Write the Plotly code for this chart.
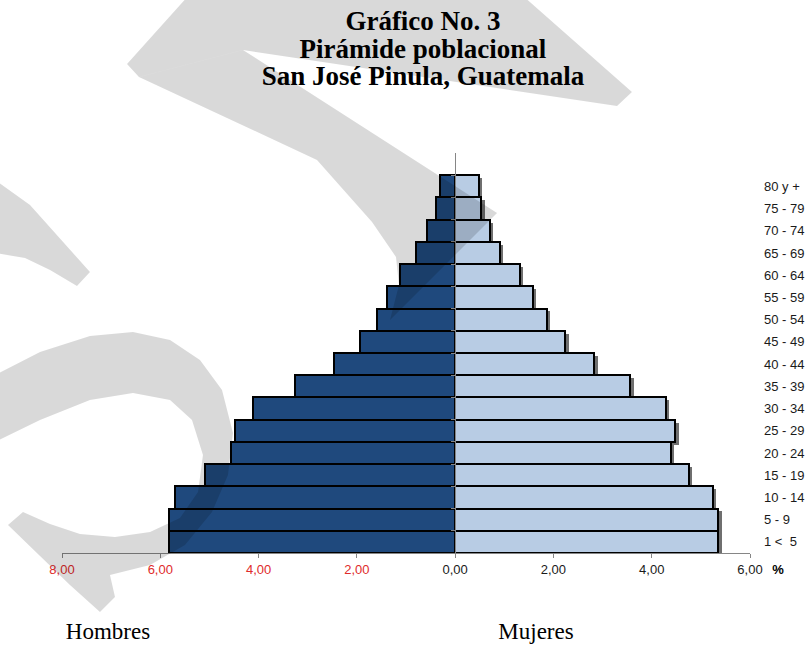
import plotly.graph_objects as go

# ---------------- data ----------------
edades = ["1 &lt;  5", "5 - 9", "10 - 14", "15 - 19", "20 - 24", "25 - 29", "30 - 34",
          "35 - 39", "40 - 44", "45 - 49", "50 - 54", "55 - 59", "60 - 64",
          "65 - 69", "70 - 74", "75 - 79", "80 y +"]
hombres = [5.83, 5.83, 5.71, 5.10, 4.57, 4.47, 4.12, 3.26, 2.47, 1.93, 1.60,
           1.39, 1.12, 0.79, 0.57, 0.39, 0.30]
mujeres = [5.35, 5.35, 5.24, 4.75, 4.39, 4.48, 4.29, 3.56, 2.83, 2.24, 1.86,
           1.58, 1.32, 0.91, 0.71, 0.53, 0.48]
x_ticks = [-8, -6, -4, -2, 0, 2, 4, 6]
x_tick_text = ["8,00", "6,00", "4,00", "2,00", "0,00", "2,00", "4,00", "6,00"]
titulo = ["Gráfico No. 3", "Pirámide poblacional", "San José Pinula, Guatemala"]
sexos = ["Hombres", "Mujeres"]
unidad = "%"

# ---------------- layout geometry (pixels) ----------------
W, H = 807, 648
PL, PR, PT, PB = 62, 750, 153, 553   # plot area edges in pixels
XMIN, XMAX = -8, 6


def path(points):
    return "M" + "L".join(f"{a / W:.4f},{1 - b / H:.4f}" for a, b in points) + "Z"


red = "#e02b2b"
tick_text = [
    (f'<span style="color:{red}">{t}</span>' if v < 0 else t)
    for v, t in zip(x_ticks, x_tick_text)
]

dark = "#1f497d"
light = "#b8cce4"
shadow = "#6f6f6f"

fig = go.Figure()
# shadows
fig.add_trace(go.Bar(y=edades, x=[-v for v in hombres], base=0.07, orientation="h",
                     width=1, offset=-0.63, marker=dict(color=shadow, line=dict(width=0)),
                     yaxis="y", hoverinfo="skip", showlegend=False))
fig.add_trace(go.Bar(y=edades, x=mujeres, base=0.07, orientation="h",
                     width=1, offset=-0.63, marker=dict(color=shadow, line=dict(width=0)),
                     yaxis="y2", hoverinfo="skip", showlegend=False))
# bars
fig.add_trace(go.Bar(y=edades, x=[-v for v in hombres], orientation="h", name="Hombres",
                     width=1, offset=-0.5,
                     marker=dict(color=dark, line=dict(color="#000000", width=2)),
                     yaxis="y", showlegend=False))
fig.add_trace(go.Bar(y=edades, x=mujeres, orientation="h", name="Mujeres",
                     width=1, offset=-0.5,
                     marker=dict(color=light, line=dict(color="#000000", width=2)),
                     yaxis="y2", showlegend=False))

# ---------------- texts (full-figure pixel-unit subplot) ----------------
fig.add_trace(go.Scatter(x=[423, 423, 423], y=[23, 51, 78], text=titulo, mode="text",
                         textposition="middle center", cliponaxis=False,
                         textfont=dict(family="Liberation Serif", size=27, color="#000000",
                                       weight="bold"),
                         xaxis="x3", yaxis="y3", hoverinfo="skip", showlegend=False))
fig.add_trace(go.Scatter(x=[108, 536], y=[633, 633], text=sexos, mode="text",
                         textposition="middle center", cliponaxis=False,
                         textfont=dict(family="Liberation Serif", size=23, color="#000000"),
                         xaxis="x3", yaxis="y3", hoverinfo="skip", showlegend=False))
fig.add_trace(go.Scatter(x=[778], y=[571], text=[unidad], mode="text",
                         textposition="middle center", cliponaxis=False,
                         textfont=dict(family="Liberation Sans", size=13, color="#000000",
                                       weight="bold"),
                         xaxis="x3", yaxis="y3", hoverinfo="skip", showlegend=False))

# ---------------- watermark (decorative, drawn above everything) ----------------
wm_fill = "rgba(0,0,0,0.15)"
wm_pieces = [
    [(189, -5), (522, -5), (632, 92), (617, 106), (243, 50), (139, 77), (127, 64)],
    [(243, 50), (497, 213), (390, 320), (399, 285), (396, 257), (372, 222),
     (317, 160), (139, 77)],
    [(-5, 180), (30, 205), (90, 272), (77, 286), (50, 270), (25, 258), (-5, 253)],
    [(-5, 375), (40, 352), (90, 336), (133, 332), (170, 340), (200, 360),
     (222, 390), (233, 433), (228, 475), (212, 512), (185, 545), (150, 565),
     (110, 575), (115, 597), (100, 612), (70, 585), (40, 556), (8, 525),
     (23, 512), (50, 524), (80, 534), (115, 537), (150, 532), (180, 518),
     (198, 492), (203, 455), (192, 420), (170, 400), (133, 393), (90, 400),
     (40, 420), (-5, 442)],
]
shapes = [dict(type="path", xref="paper", yref="paper", path=path(p),
               fillcolor=wm_fill, line=dict(width=0), layer="above")
          for p in wm_pieces]

x_dom = [PL / W, PR / W]
y_dom = [1 - PB / H, 1 - PT / H]
zero_pos = (PL + (0 - XMIN) / (XMAX - XMIN) * (PR - PL)) / W

fig.update_layout(
    width=W, height=H,
    margin=dict(l=0, r=0, t=0, b=0, pad=0, autoexpand=False),
    paper_bgcolor="#ffffff", plot_bgcolor="rgba(0,0,0,0)",
    barmode="overlay", bargap=0,
    font=dict(family="Liberation Sans", size=13, color="#1a1a1a"),
    xaxis=dict(domain=x_dom, anchor="y", range=[XMIN, XMAX], tickmode="array",
               tickvals=x_ticks, ticktext=tick_text,
               showline=True, linecolor="#868686", linewidth=1, ticks="outside",
               ticklen=4, tickcolor="#868686", showgrid=False, zeroline=False,
               tickfont=dict(family="Liberation Sans", size=13, color="#1a1a1a"),
               automargin=False, fixedrange=True),
    yaxis=dict(domain=y_dom, type="category", categoryorder="array", categoryarray=edades,
               range=[-0.5, 17.5], anchor="free", position=zero_pos,
               showline=True, linecolor="#868686", linewidth=1, ticks="outside",
               tickson="boundaries", ticklen=4, tickcolor="#868686",
               showticklabels=False, showgrid=False, zeroline=False,
               automargin=False, fixedrange=True),
    yaxis2=dict(type="category", categoryorder="array", categoryarray=edades,
                range=[-0.5, 17.5], overlaying="y", side="right", anchor="x",
                showline=False, ticks="", showgrid=False, zeroline=False,
                ticklabelstandoff=13, automargin=False,
                tickfont=dict(family="Liberation Sans", size=13, color="#1a1a1a"),
                fixedrange=True),
    xaxis3=dict(domain=[0, 1], anchor="y3", range=[0, W], visible=False, fixedrange=True),
    yaxis3=dict(domain=[0, 1], anchor="x3", range=[H, 0], visible=False, fixedrange=True),
    shapes=shapes,
)

fig.write_html("out.html", config={"displayModeBar": False},
               post_script="document.body.style.margin='0px';"
                           "document.body.style.overflow='hidden';")
